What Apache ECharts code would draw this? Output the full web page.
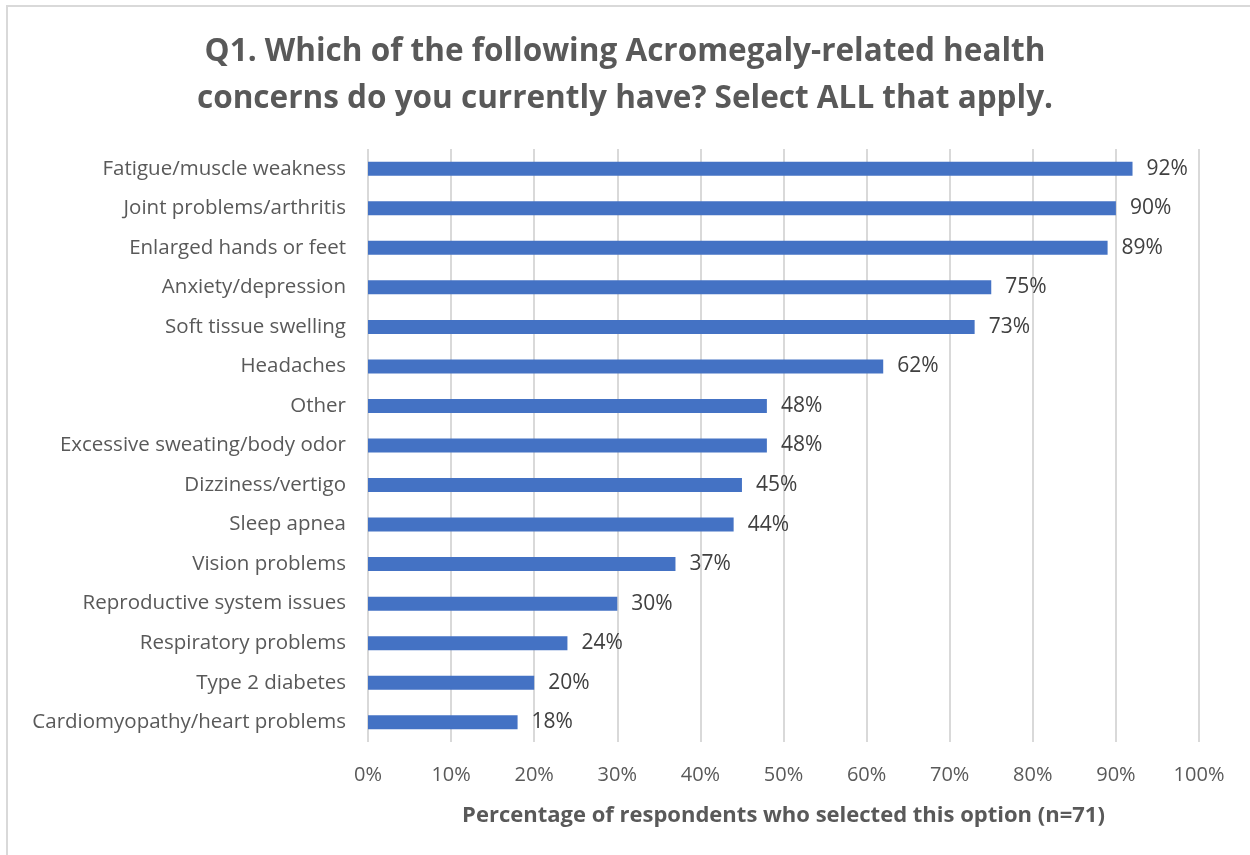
<!DOCTYPE html>
<html>
<head>
<meta charset="utf-8">
<script src="https://cdn.jsdelivr.net/npm/echarts@6/dist/echarts.min.js"></script>
<style>
  html, body { margin: 0; padding: 0; background: #fff; }
  #chart-container { width: 1250px; height: 855px; }
</style>
</head>
<body>
<div id="chart-container"></div>
<script>
const categories = [
  "Fatigue/muscle weakness",
  "Joint problems/arthritis",
  "Enlarged hands or feet",
  "Anxiety/depression",
  "Soft tissue swelling",
  "Headaches",
  "Other",
  "Excessive sweating/body odor",
  "Dizziness/vertigo",
  "Sleep apnea",
  "Vision problems",
  "Reproductive system issues",
  "Respiratory problems",
  "Type 2 diabetes",
  "Cardiomyopathy/heart problems"
];
const values = [92, 90, 89, 75, 73, 62, 48, 48, 45, 44, 37, 30, 24, 20, 18];
const titleLines = [
  "Q1. Which of the following Acromegaly-related health",
  "concerns do you currently have? Select ALL that apply."
];
const axisTitle = "Percentage of respondents who selected this option (n=71)";

const chartContainer = document.getElementById("chart-container");
const myChart = echarts.init(chartContainer);
const font = "'Open Sans', 'Noto Sans', sans-serif";

const option = {
  animation: false,
  title: {
    text: titleLines.join("\n"),
    left: "center",
    top: 24,
    textStyle: {
      fontFamily: font,
      fontSize: 31.5,
      fontWeight: "bold",
      color: "#595959",
      lineHeight: 47,
    },
  },
  graphic: [
    {
      type: "rect",
      shape: { x: 7, y: 6, width: 1300, height: 900 },
      style: { fill: "none", stroke: "#d9d9d9", lineWidth: 2 },
      silent: true,
    },
  ],
  grid: {
    left: 368,
    right: 51,
    top: 149,
    bottom: 113,
    containLabel: false,
  },
  xAxis: {
    type: "value",
    min: 0,
    max: 100,
    interval: 10,
    name: axisTitle,
    nameLocation: "middle",
    nameGap: 63,
    nameTextStyle: {
      fontFamily: font,
      fontSize: 22,
      fontWeight: "bold",
      color: "#595959",
    },
    axisLine: { show: false },
    axisTick: { show: false },
    axisLabel: {
      formatter: "{value}%",
      margin: 23,
      fontFamily: font,
      fontSize: 20,
      color: "#595959",
    },
    splitLine: { lineStyle: { color: "#d9d9d9", width: 2 } },
  },
  yAxis: {
    type: "category",
    data: categories,
    inverse: true,
    axisLine: { show: false },
    axisTick: { show: false },
    axisLabel: {
      margin: 22,
      fontFamily: font,
      fontSize: 20.5,
      color: "#595959",
    },
  },
  series: [
    {
      type: "bar",
      data: values,
      barWidth: 14,
      itemStyle: { color: "#4472c4" },
      label: {
        show: true,
        position: "right",
        distance: 14,
        formatter: "{c}%",
        fontFamily: font,
        fontSize: 21,
        color: "#404040",
      },
    },
  ],
};

myChart.setOption(option);
</script>
</body>
</html>
